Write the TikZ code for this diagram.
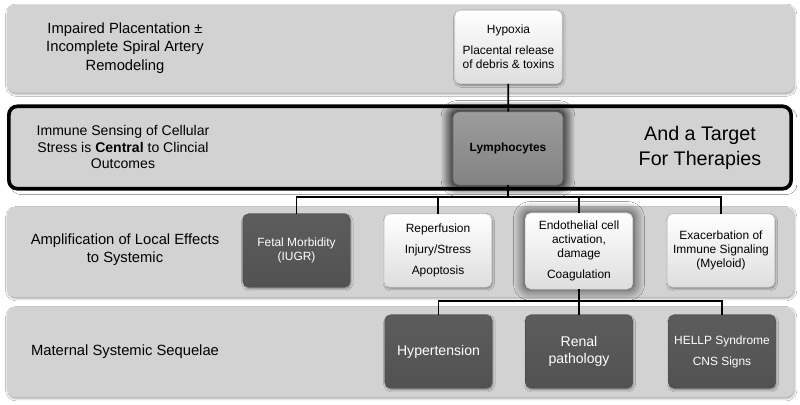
\documentclass[tikz,border=0pt]{standalone}
\usepackage{fontspec}
\setmainfont{Liberation Sans}
\usetikzlibrary{positioning,arrows.meta,shadows.blur}
\definecolor{bandgray}{HTML}{D2D2D2}
\definecolor{darkbox}{HTML}{4E4E4E}
\definecolor{midbox}{HTML}{8A8A8A}

\begin{document}
\begin{tikzpicture}[
  x=0.025cm, y=-0.025cm,
  band/.style={rounded corners=6pt, fill=bandgray, minimum width=19.67cm,
    minimum height=2.2cm, inner sep=0pt,
    blur shadow={shadow xshift=0.5pt, shadow yshift=-1.2pt, shadow blur radius=1.5pt, shadow opacity=35}},
  bandlabel/.style={align=center, font=\fontsize{10.5}{13}\selectfont},
  lightbox/.style={rounded corners=4pt, draw=black!15, top color=white, bottom color=black!13,
    minimum width=2.68cm, minimum height=1.83cm, align=center,
    font=\fontsize{8.5}{10}\selectfont,
    blur shadow={shadow xshift=0.6pt, shadow yshift=-1.2pt, shadow blur radius=1.5pt, shadow opacity=40}},
  darkbox/.style={lightbox, draw=black!70, top color=darkbox!92, bottom color=darkbox!105!black, text=white},
  glow/.style={blur shadow={shadow xshift=0pt, shadow yshift=0pt, shadow scale=1.03,
    shadow blur radius=7pt, shadow blur steps=12, shadow opacity=#1}},
  glow/.default=40,
  link/.style={line width=1.3pt},
  >=Stealth
]
  \useasboundingbox[fill=white] (0,0) rectangle (800,404);

  % the four stages
  \node[band] (band1) at (400.5,48.5) {};
  \node[band, draw=black, line width=2.6pt, minimum width=19.55cm, minimum height=2.06cm,
    blur shadow={shadow opacity=0}] (band2) at (400,147.5) {};
  \node[band, minimum height=2.25cm] (band3) at (400.5,252) {};
  \node[band, minimum height=2.25cm] (band4) at (400.5,352) {};

  \node[bandlabel] (lab1) at (125,48) {Impaired Placentation ±\\Incomplete Spiral Artery\\Remodeling};
  \node[bandlabel, font=\fontsize{10}{12}\selectfont] (lab2) at (123,147)
    {Immune Sensing of Cellular\\Stress is \textbf{Central} to Clincial\\Outcomes};
  \node[bandlabel, font=\fontsize{14}{18}\selectfont] (target) at (700,148) {And a Target\\For Therapies};
  \node[bandlabel] (lab3) at (125,250) {Amplification of Local Effects\\to Systemic};
  \node[bandlabel] (lab4) at (125,352) {Maternal Systemic Sequelae};

  % boxes
  \node[lightbox] (hypoxia) at (508.5,47) {Hypoxia\\[5pt]Placental release\\of debris \& toxins};
  \node[lightbox, glow=70, draw=black!60, top color=midbox!85, bottom color=midbox!95!black,
    minimum width=2.75cm, font=\fontsize{8.5}{10}\selectfont\bfseries] (lymph) at (508,148.5) {Lymphocytes};

  \node[darkbox] (fetal) at (296.5,250.5) {Fetal Morbidity\\(IUGR)};
  \node[lightbox] (reperf) at (438,250.5) {Reperfusion\\[5pt]Injury/Stress\\[5pt]Apoptosis};
  \node[lightbox, glow, minimum height=1.9cm] (endo) at (579,251) {Endothelial cell\\activation,\\damage\\[5pt]Coagulation};
  \node[lightbox] (exac) at (721,250.5) {Exacerbation of\\Immune Signaling\\(Myeloid)};

  \node[darkbox, font=\fontsize{10}{12}\selectfont] (hyper) at (438.5,351.5) {Hypertension};
  \node[darkbox, font=\fontsize{10}{12}\selectfont] (renal) at (579,351.5) {Renal\\pathology};
  \node[darkbox] (hellp) at (722,351.5) {HELLP Syndrome\\[5pt]CNS Signs};

  % connectors
  \coordinate (split1) at (508,197);
  \coordinate (split2) at (579,301);
  \draw[link] (hypoxia) -- (lymph);
  \draw[link] (lymph) -- (split1);
  \foreach \n in {fetal,reperf,endo,exac}
    \draw[link] (split1) -| (\n.north);
  \draw[link] (endo) -- (split2);
  \foreach \n in {hyper,renal,hellp}
    \draw[link] (split2) -| (\n.north);
\end{tikzpicture}
\end{document}
